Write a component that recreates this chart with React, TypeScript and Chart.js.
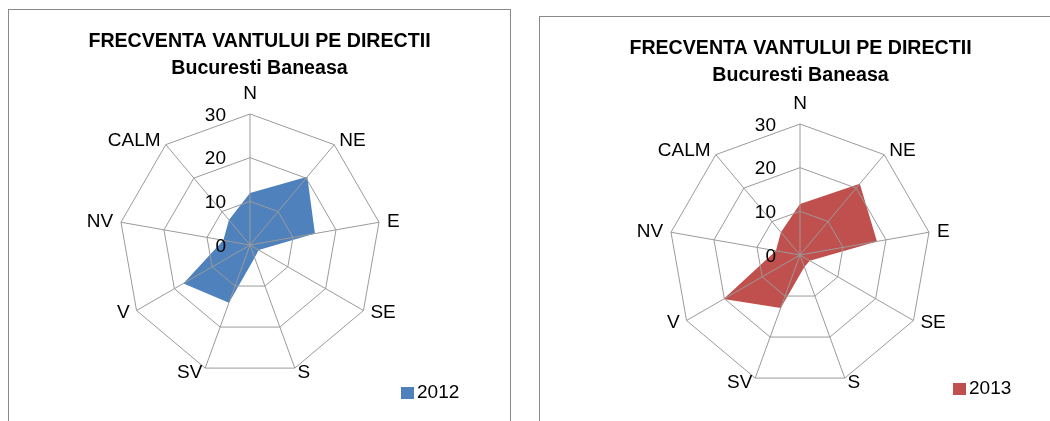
import React, { useEffect, useRef } from "react";
import { Chart, registerables } from "chart.js";

Chart.register(...registerables);

// ---- data ----
const directions = ["N", "NE", "E", "SE", "S", "SV", "V", "NV", "CALM"];
const freq2012 = [11.9, 20.4, 15.1, 2.3, 3.1, 14.1, 17.6, 6.2, 7.5];
const freq2013 = [11.7, 21.3, 17.9, 2.6, 2.9, 12.9, 20.2, 5.6, 6.8];
const titleLines = ["FRECVENTA VANTULUI PE DIRECTII", "Bucuresti Baneasa"];
const axisMin = 0;
const axisMax = 30;
const axisStep = 10;

const FONT = "'Liberation Sans', Arial, sans-serif";
const GRID = "#9a9a9a";

const excelTextPlugin = {
  id: "excelText",
  afterDraw(chart: any, _args: any, opts: any) {
    const ctx = chart.ctx;
    const scale = chart.scales.r;
    const W = chart.width;
    ctx.save();
    ctx.fillStyle = "#000";
    // title
    ctx.font = `bold 19.6px ${FONT}`;
    ctx.textAlign = "center";
    ctx.textBaseline = "middle";
    (opts.title || []).forEach((line: string, i: number) => {
      ctx.fillText(line, W / 2, opts.titleY + i * opts.titleGap);
    });
    // tick labels (left of the north spoke)
    ctx.font = `19px ${FONT}`;
    ctx.textAlign = "right";
    scale.ticks.forEach((t: any) => {
      const d = scale.getDistanceFromCenterForValue(t.value);
      ctx.fillText(String(t.label ?? t.value), scale.xCenter - 24, scale.yCenter - d + 1.5);
    });
    // point labels
    (chart.data.labels as string[]).forEach((lab, i) => {
      const a = scale.getIndexAngle(i);
      const s = Math.sin(a);
      const c = Math.cos(a);
      const x = scale.xCenter + (scale.drawingArea + 8) * s;
      let y = scale.yCenter - (scale.drawingArea + 4.5) * c;
      if (c > 0.95) y -= 16;
      ctx.textAlign = Math.abs(s) < 0.1 ? "center" : s > 0 ? "left" : "right";
      ctx.fillText(lab, x, y);
    });
    // legend
    const ds = chart.data.datasets[0];
    const lx = W - opts.legendRight;
    const ly = opts.legendTop;
    ctx.fillStyle = ds.backgroundColor;
    ctx.fillRect(lx, ly, 13, 12);
    ctx.fillStyle = "#000";
    ctx.textAlign = "left";
    ctx.fillText(ds.label, lx + 16, ly + 5.5);
    ctx.restore();
  },
};

type PanelProps = {
  left: number;
  top: number;
  width: number;
  height: number;
  label: string;
  values: number[];
  color: string;
  padding: { left: number; right: number; top: number; bottom: number };
  legendRight: number;
  legendTop: number;
};

function RadarPanel(p: PanelProps) {
  const ref = useRef<HTMLCanvasElement>(null);
  const cw = p.width - 2;
  const ch = p.height - 2;
  useEffect(() => {
    const chart = new Chart(ref.current as HTMLCanvasElement, {
      type: "radar",
      data: {
        labels: directions,
        datasets: [
          {
            label: p.label,
            data: p.values,
            backgroundColor: p.color,
            borderColor: p.color,
            borderWidth: 0,
            fill: true,
            pointRadius: 0,
            pointHoverRadius: 0,
          },
        ],
      },
      options: {
        responsive: false,
        animation: false,
        layout: { padding: p.padding },
        plugins: {
          legend: { display: false },
          title: { display: false },
          tooltip: { enabled: false },
          excelText: {
            title: titleLines,
            titleY: 31.5,
            titleGap: 27.5,
            legendRight: p.legendRight,
            legendTop: p.legendTop,
          },
        } as any,
        scales: {
          r: {
            min: axisMin,
            max: axisMax,
            startAngle: 0,
            ticks: { display: false, stepSize: axisStep, z: 1 } as any,
            pointLabels: { display: false },
            grid: { color: GRID, lineWidth: 1, circular: false, z: 1 } as any,
            angleLines: { color: GRID, lineWidth: 1 },
          },
        },
      },
      plugins: [excelTextPlugin],
    });
    return () => chart.destroy();
  }, []);
  return (
    <div
      style={{
        position: "absolute",
        left: p.left,
        top: p.top,
        width: p.width,
        height: p.height,
        boxSizing: "border-box",
        border: "1px solid #8a8a8a",
        background: "#fff",
        overflow: "hidden",
      }}
    >
      <canvas ref={ref} width={cw} height={ch} style={{ display: "block", width: cw, height: ch }} />
    </div>
  );
}

export default function App() {
  return (
    <div
      style={{
        position: "fixed",
        left: 0,
        top: 0,
        width: 1050,
        height: 421,
        overflow: "hidden",
        background: "#fff",
      }}
    >
      <RadarPanel
        left={8}
        top={9}
        width={503}
        height={430}
        label="2012"
        values={freq2012}
        color="#4F81BD"
        padding={{ left: 110, right: 129, top: 104, bottom: 62 }}
        legendRight={109}
        legendTop={377}
      />
      <RadarPanel
        left={539}
        top={16}
        width={523}
        height={430}
        label="2013"
        values={freq2013}
        color="#C0504D"
        padding={{ left: 129, right: 130, top: 107, bottom: 59 }}
        legendRight={108}
        legendTop={366}
      />
    </div>
  );
}
